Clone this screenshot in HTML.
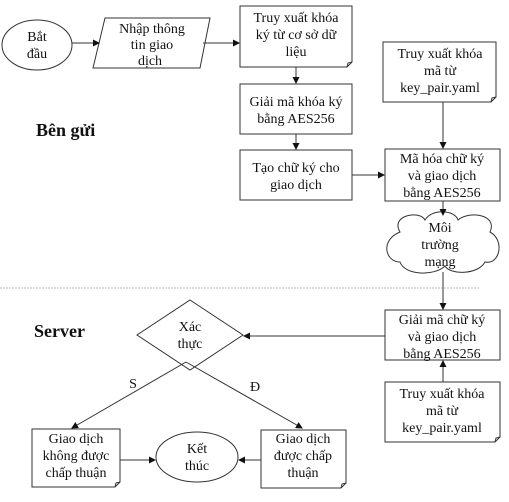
<!DOCTYPE html>
<html><head><meta charset="utf-8"><style>
body{margin:0;background:#fff}
svg{display:block}
text{font-family:"Liberation Serif",serif;font-size:14px;fill:#111}
</style></head><body>
<svg width="509" height="502" viewBox="0 0 509 502">
<defs><marker id="a" markerWidth="7" markerHeight="7" refX="6" refY="3.5" orient="auto"><path d="M0,0L7,3.5L0,7z" fill="#111"/></marker></defs>
<g fill="none" stroke="#333" stroke-width="1">
<ellipse cx="37" cy="45" rx="35" ry="25"/>
<polygon points="105,18 210,18 200,68 93,68"/>
<path d="M240,6H352V62L347,67H240Z"/><path d="M347,67L348,63L352,62"/>
<rect x="240" y="84" width="112" height="50"/>
<rect x="240" y="150" width="112" height="50"/>
<path d="M383,42H496V97L491,102H383Z"/><path d="M491,102L492,98L496,97"/>
<rect x="385" y="149" width="115" height="52"/>
<path d="M400,232 C390,215 420,210 425,220 C432,208 455,210 458,220 C470,210 498,215 490,232 C505,240 500,265 485,262 C478,275 450,275 445,266 C435,276 405,276 400,262 C385,262 380,240 400,232Z"/>
<path d="M0,288H480" stroke="#bbb" stroke-dasharray="2,1"/>
<rect x="385" y="310" width="115" height="50"/>
<polygon points="190,300 243,335 190,370 137,335"/>
<path d="M32,429H120V482L115,487H32Z"/><path d="M115,487L116,483L120,482"/>
<ellipse cx="197" cy="457" rx="41" ry="25"/>
<path d="M261,430H346V483L341,488H261Z"/><path d="M341,488L342,484L346,483"/>
<path d="M385,382H500V437L495,442H385Z"/><path d="M495,442L496,438L500,437"/>
</g>
<g stroke="#333" stroke-width="1" fill="none" marker-end="url(#a)">
<path d="M72,43H99"/><path d="M203,43H239"/>
<path d="M296,67V83"/><path d="M296,134V149"/>
<path d="M352,175H384"/><path d="M443,102V148"/><path d="M443,201V215"/>
<path d="M443,272V309"/><path d="M385,336H244"/>
<path d="M186,362L72,428"/><path d="M186,362L302,428"/>
<path d="M120,460H155"/><path d="M261,460H239"/><path d="M443,382V361"/>
</g>
<g text-anchor="middle">
<text x="37" y="41">Bắt</text><text x="37" y="58">đầu</text>
<text x="152" y="33">Nhập thông</text><text x="152" y="49">tin giao</text><text x="150" y="65">dịch</text>
<text x="296" y="22">Truy xuất khóa</text><text x="296" y="39">ký từ cơ sở dữ</text><text x="296" y="56">liệu</text>
<text x="296" y="106">Giải mã khóa ký</text><text x="296" y="123">bằng AES256</text>
<text x="296" y="172">Tạo chữ ký cho</text><text x="296" y="189">giao dịch</text>
<text x="440" y="58">Truy xuất khóa</text><text x="440" y="75">mã từ</text><text x="440" y="92">key_pair.yaml</text>
<text x="442" y="163">Mã hóa chữ ký</text><text x="442" y="180">và giao dịch</text><text x="442" y="197">bằng AES256</text>
<text x="440" y="232">Môi</text><text x="440" y="249">trường</text><text x="440" y="266">mạng</text>
<text x="442" y="324">Giải mã chữ ký</text><text x="442" y="341">và giao dịch</text><text x="442" y="358">bằng AES256</text>
<text x="190" y="331">Xác</text><text x="190" y="348">thực</text>
<text x="133" y="388">S</text><text x="255" y="391">Đ</text>
<text x="442" y="398">Truy xuất khóa</text><text x="442" y="415">mã từ</text><text x="442" y="432">key_pair.yaml</text>
<text x="76" y="443">Giao dịch</text><text x="76" y="460">không được</text><text x="76" y="477">chấp thuận</text>
<text x="197" y="453">Kết</text><text x="197" y="470">thúc</text>
<text x="303" y="443">Giao dịch</text><text x="303" y="460">được chấp</text><text x="303" y="477">thuận</text>
</g>
<text x="36" y="136" style="font-size:18px;font-weight:bold">Bên gửi</text>
<text x="34" y="337" style="font-size:18px;font-weight:bold">Server</text>
</svg>
</body></html>
